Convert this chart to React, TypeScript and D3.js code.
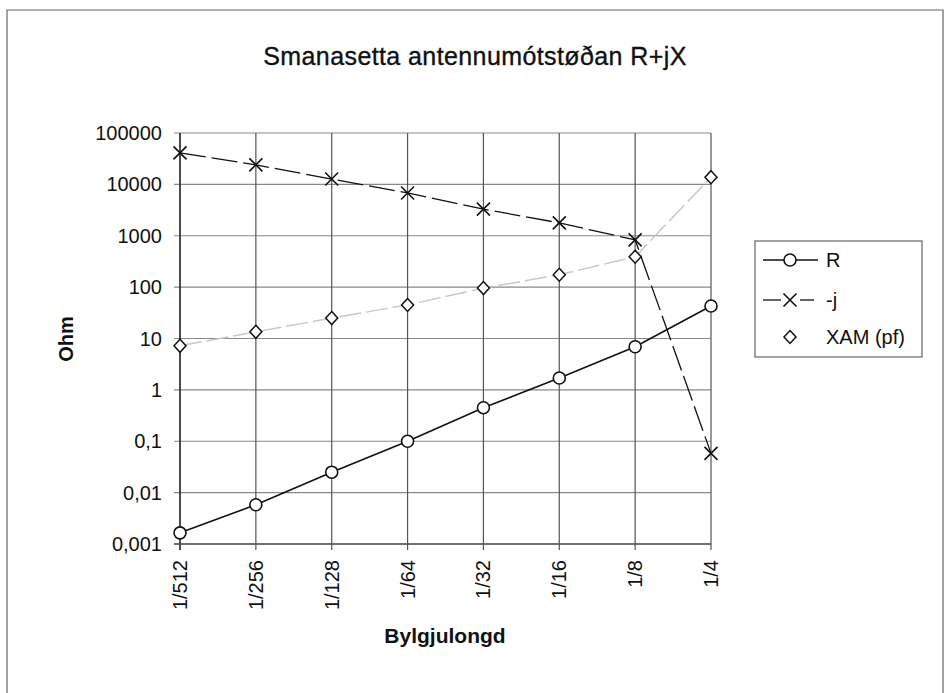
import React from 'react'
import * as d3 from 'd3'

// Bylgjulongd (fraction of wavelength)
const categories = ['1/512', '1/256', '1/128', '1/64', '1/32', '1/16', '1/8', '1/4']
const rValues = [0.00165, 0.0058, 0.025, 0.1, 0.45, 1.7, 6.9, 43]
const jValues = [41000, 24000, 12700, 6800, 3300, 1780, 830, 0.058]
const xamValues = [7.2, 13.5, 25, 45, 96, 174, 390, 13800]
const yTicks = [0.001, 0.01, 0.1, 1, 10, 100, 1000, 10000, 100000]
const yTickLabels = ['0,001', '0,01', '0,1', '1', '10', '100', '1000', '10000', '100000']

const W = 945
const H = 693
const left = 180
const right = 711
const top = 133
const bottom = 544
const font = '"Liberation Sans", Arial, sans-serif'

const Circle = ({ x, y }: { x: number; y: number }) => (
	<circle cx={x} cy={y} r={6} fill="#fff" stroke="#111" strokeWidth={1.6} />
)
const Cross = ({ x, y }: { x: number; y: number }) => (
	<path d={`M${x - 6.5},${y - 6.5}L${x + 6.5},${y + 6.5}M${x - 6.5},${y + 6.5}L${x + 6.5},${y - 6.5}`} stroke="#111" strokeWidth={1.6} />
)
const Diamond = ({ x, y }: { x: number; y: number }) => (
	<path d={`M${x},${y - 6.5}L${x + 6},${y}L${x},${y + 6.5}L${x - 6},${y}Z`} fill="#fff" stroke="#111" strokeWidth={1.5} />
)

const App = () => {
	const xScale = d3.scalePoint<string>().domain(categories).range([left, right])
	const yScale = d3.scaleLog().domain([0.001, 100000]).range([bottom, top])
	const line = d3
		.line<number>()
		.x((_, i) => xScale(categories[i]) as number)
		.y((d) => yScale(d))

	return (
		<svg width={W} height={H} style={{ position: 'absolute', left: 0, top: 0, background: '#fff' }} fontFamily={font}>
			{/* frame */}
			<path d={`M7,${H}L7,10L943,10L943,${H}`} fill="none" stroke="#666" strokeWidth={1.2} />

			<text x={475} y={65} textAnchor="middle" fontSize={25} letterSpacing={0.4} fill="#111" stroke="#111" strokeWidth={0.35}>
				Smanasetta antennumótstøðan R+jX
			</text>

			{/* grid */}
			{yTicks.map((t) => (
				<line key={t} x1={left - 6} x2={right} y1={yScale(t)} y2={yScale(t)} stroke="#888" strokeWidth={1.2} />
			))}
			{categories.map((c) => (
				<line key={c} x1={xScale(c)} x2={xScale(c)} y1={top} y2={bottom + 6} stroke="#555" strokeWidth={1.2} />
			))}
			<line x1={left} x2={left} y1={top} y2={bottom + 6} stroke="#222" strokeWidth={1.3} />
			<line x1={left - 6} x2={right} y1={bottom} y2={bottom} stroke="#555" strokeWidth={1.3} />

			{/* y labels */}
			{yTicks.map((t, i) => (
				<text key={t} x={162} y={yScale(t)} dy="0.35em" textAnchor="end" fontSize={20} fill="#111">
					{yTickLabels[i]}
				</text>
			))}
			{/* x labels */}
			{categories.map((c) => (
				<text
					key={c}
					transform={`translate(${xScale(c)},560) rotate(-90)`}
					dy="0.35em"
					textAnchor="end"
					fontSize={20}
					fill="#111"
				>
					{c}
				</text>
			))}
			<text transform="translate(66,339) rotate(-90)" dy="0.35em" textAnchor="middle" fontSize={20} fontWeight="bold" fill="#111">
				Ohm
			</text>
			<text x={445} y={643} textAnchor="middle" fontSize={21} fontWeight="bold" fill="#111">
				Bylgjulongd
			</text>

			{/* series */}
			<path d={line(xamValues) as string} fill="none" stroke="#c8c8c8" strokeWidth={1.5} strokeDasharray="22,5" />
			<path d={line(jValues) as string} fill="none" stroke="#111" strokeWidth={1.3} strokeDasharray="26,6" />
			<path d={line(rValues) as string} fill="none" stroke="#111" strokeWidth={1.6} />
			{xamValues.map((v, i) => (
				<Diamond key={i} x={xScale(categories[i]) as number} y={yScale(v)} />
			))}
			{jValues.map((v, i) => (
				<Cross key={i} x={xScale(categories[i]) as number} y={yScale(v)} />
			))}
			{rValues.map((v, i) => (
				<Circle key={i} x={xScale(categories[i]) as number} y={yScale(v)} />
			))}

			{/* legend */}
			<rect x={755} y={241} width={167} height={116} fill="#fff" stroke="#666" strokeWidth={1.2} />
			<line x1={763} x2={818} y1={260} y2={260} stroke="#111" strokeWidth={1.6} />
			<Circle x={790} y={260} />
			<text x={826} y={260} dy="0.35em" fontSize={20} fill="#111">R</text>
			<line x1={763} x2={781} y1={300} y2={300} stroke="#111" strokeWidth={1.3} />
			<line x1={800} x2={814} y1={300} y2={300} stroke="#111" strokeWidth={1.3} />
			<Cross x={790} y={300} />
			<text x={826} y={300} dy="0.35em" fontSize={20} fill="#111">-j</text>
			<Diamond x={790} y={337} />
			<text x={826} y={337} dy="0.35em" fontSize={20} fill="#111">XAM (pf)</text>
		</svg>
	)
}

export default App
